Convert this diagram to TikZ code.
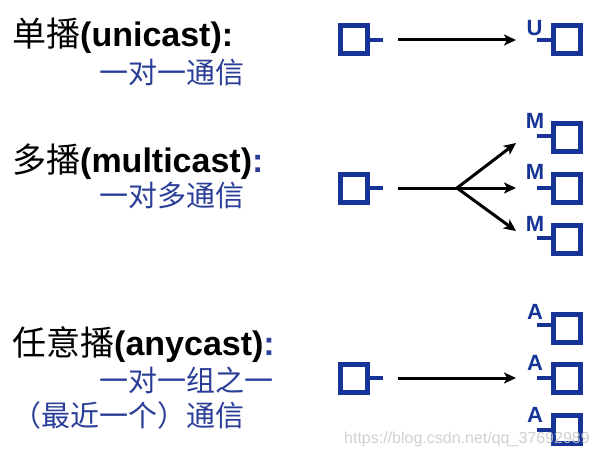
\documentclass[tikz,border=0pt]{standalone}
\usepackage{fontspec}
\setmainfont{Liberation Sans}
\newfontfamily\cjk{Noto Sans CJK SC}
\usetikzlibrary{arrows.meta}
\definecolor{boxblue}{RGB}{22,52,152}
\definecolor{txtblue}{RGB}{42,62,152}
\definecolor{wmgray}{RGB}{200,200,200}
\tikzset{
  host/.style={draw=boxblue, line width=5pt, minimum width=27pt, minimum height=28pt, inner sep=0pt, outer sep=0pt, fill=white},
  stub/.style={draw=boxblue, line width=4pt},
  flow/.style={draw=black, line width=3pt, -{Stealth[length=12pt,width=11pt,inset=3pt]}},
  flowline/.style={draw=black, line width=3pt},
  addr/.style={text=boxblue, font=\fontsize{22}{23}\selectfont\bfseries, inner sep=0pt},
  head/.style={anchor=base west, inner sep=0pt, font=\fontsize{34}{36}\selectfont},
  sub/.style={anchor=base west, inner sep=0pt, text=txtblue, font=\fontsize{29}{31}\selectfont\cjk},
}
\begin{document}
\begin{tikzpicture}[x=1pt,y=-1pt]
\useasboundingbox (0,0) rectangle (597,452);
% texts
\node[head] (h1) at (12,47) {{\cjk 单播}\textbf{(unicast):}};
\node[sub] (s1) at (99,83) {一对一通信};
\node[head] (h2) at (12,172) {{\cjk 多播}\textbf{(multicast)}\textcolor{txtblue}{\textbf{:}}};
\node[sub] (s2) at (99,206) {一对多通信};
\node[head] (h3) at (12,355) {{\cjk 任意播}\textbf{(anycast)}\textcolor{txtblue}{\textbf{:}}};
\node[sub] (s3) at (99,391) {一对一组之一};
\node[sub] (s4) at (12,426) {（最近一个）通信};
% unicast
\node[host] (us) at (354,40) {};
\coordinate (usx) at (383,40);
\draw[stub] (us.east) -- (usx);
\node[host] (ud) at (566.5,40) {};
\coordinate (udx) at (537,40);
\draw[stub] (ud.west) -- (udx);
\node[addr] (ul) at (534.5,28) {U};
\coordinate (ua) at (398,40);
\coordinate (ub) at (516,40);
\draw[flow] (ua) -- (ub);
% multicast
\node[host] (ms) at (354,188) {};
\coordinate (msx) at (383,188);
\draw[stub] (ms.east) -- (msx);
\node[host] (md1) at (566.5,137) {};
\node[host] (md2) at (566.5,188) {};
\node[host] (md3) at (566.5,239) {};
\coordinate (md1x) at (537,136);
\coordinate (md2x) at (537,188);
\coordinate (md3x) at (537,238);
\draw[stub] (md1.west |- md1x) -- (md1x);
\draw[stub] (md2.west) -- (md2x);
\draw[stub] (md3.west |- md3x) -- (md3x);
\node[addr] (ml1) at (535,121) {M};
\node[addr] (ml2) at (535,172) {M};
\node[addr] (ml3) at (535,224) {M};
\coordinate (ma) at (398,188);
\coordinate (mf) at (457,188);
\coordinate (mb1) at (516,143);
\coordinate (mb2) at (516,188);
\coordinate (mb3) at (516,231);
\draw[flowline] (ma) -- (mf);
\draw[flow] (mf) -- (mb1);
\draw[flow] (mf) -- (mb2);
\draw[flow] (mf) -- (mb3);
% anycast
\node[host] (as) at (354,378) {};
\coordinate (asx) at (383,378);
\draw[stub] (as.east) -- (asx);
\node[host] (ad1) at (566.5,328) {};
\node[host] (ad2) at (566.5,378) {};
\node[host] (ad3) at (566.5,429) {};
\coordinate (ad1x) at (537,325);
\coordinate (ad2x) at (537,378);
\coordinate (ad3x) at (537,430);
\draw[stub] (ad1.west |- ad1x) -- (ad1x);
\draw[stub] (ad2.west) -- (ad2x);
\draw[stub] (ad3.west |- ad3x) -- (ad3x);
\node[addr] (al1) at (535,312) {A};
\node[addr] (al2) at (535,363) {A};
\node[addr] (al3) at (535,415) {A};
\coordinate (aa) at (398,378);
\coordinate (ab) at (516,378);
\draw[flow] (aa) -- (ab);
% watermark
\node[anchor=base west, inner sep=0pt, text=wmgray, opacity=0.85, font=\fontsize{16}{17}\selectfont] (wm) at (344,443) {https://blog.csdn.net/qq\_37692989};
\end{tikzpicture}
\end{document}
